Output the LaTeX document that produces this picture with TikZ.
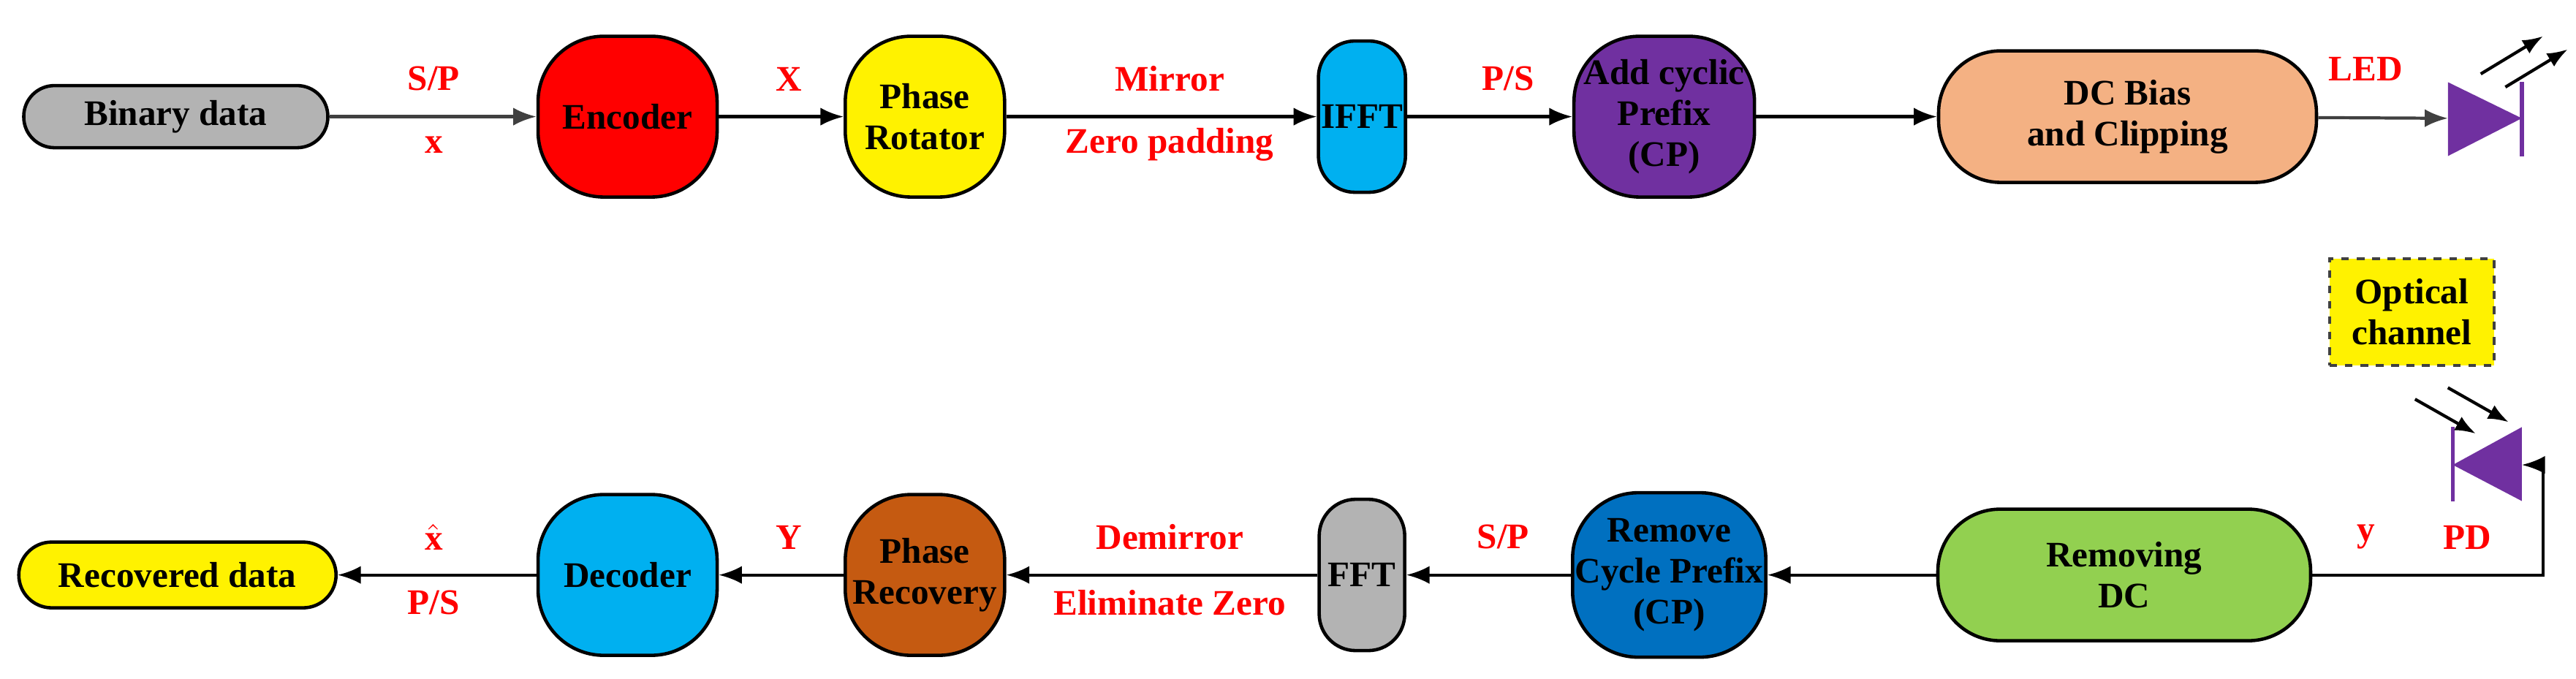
\documentclass[tikz,border=0pt]{standalone}
\usepackage{fontspec}
\setmainfont{Liberation Serif}
\usetikzlibrary{arrows.meta}
\definecolor{cgray}{HTML}{B3B3B3}
\definecolor{ccyan}{HTML}{00B0F0}
\definecolor{cpurple}{HTML}{7030A0}
\definecolor{cpeach}{HTML}{F4B183}
\definecolor{cgreen}{HTML}{92D050}
\definecolor{cblue}{HTML}{0070C0}
\definecolor{corange}{HTML}{C55A11}
\definecolor{cdiode}{HTML}{7030A0}
\begin{document}
\begin{tikzpicture}[x=0.02247cm,y=-0.02247cm,
 box/.style={draw,line width=1.3pt,align=center,font=\fontsize{14}{16}\selectfont\bfseries,inner sep=1pt},
 lab/.style={font=\fontsize{14}{16}\selectfont\bfseries,text=red},
 arr/.style={-{Latex[length=9pt,width=7pt]},line width=1.2pt},
 ray/.style={-{Latex[length=8pt,width=6pt]},line width=1.2pt},
 diode/.style={fill=cdiode,draw=none}]
\useasboundingbox (0,0) rectangle (1568,413);
% top row
\node[box,fill=cgray,minimum width=4.16cm,minimum height=0.85cm,rounded corners=0.42cm] (bin) at (107,71) {Binary data};
\node[box,fill=red,minimum width=2.45cm,minimum height=2.2cm,rounded corners=0.9cm] (enc) at (382,71) {Encoder};
\node[box,fill=yellow,minimum width=2.18cm,minimum height=2.2cm,rounded corners=0.9cm] (rot) at (563,71) {Phase\\Rotator};
\node[box,fill=ccyan,minimum width=1.17cm,minimum height=2.07cm,rounded corners=0.5cm] (ifft) at (829,71) {IFFT};
\node[box,fill=cpurple,minimum width=2.47cm,minimum height=2.2cm,rounded corners=0.9cm] (acp) at (1013,71) {Add cyclic\\Prefix\\(CP)};
\node[box,fill=cpeach,minimum width=5.17cm,minimum height=1.8cm,rounded corners=0.85cm] (dcb) at (1295,71) {DC Bias\\and Clipping};
% bottom row
\node[box,fill=cgreen,minimum width=5.1cm,minimum height=1.8cm,rounded corners=0.85cm] (rdc) at (1293,350) {Removing\\DC};
\node[box,fill=cblue,minimum width=2.52cm,minimum height=2.25cm,rounded corners=0.9cm] (rcp) at (1016,350) {Remove\\Cycle Prefix\\(CP)};
\node[box,fill=cgray,minimum width=1.17cm,minimum height=2.07cm,rounded corners=0.5cm] (fft) at (829,350) {FFT};
\node[box,fill=corange,minimum width=2.18cm,minimum height=2.2cm,rounded corners=0.9cm] (rec) at (563,350) {Phase\\Recovery};
\node[box,fill=ccyan,minimum width=2.45cm,minimum height=2.2cm,rounded corners=0.9cm] (dec) at (382,350) {Decoder};
\node[box,fill=yellow,minimum width=4.34cm,minimum height=0.9cm,rounded corners=0.45cm] (out) at (108,350) {Recovered data};
% optical channel
\node[box,fill=yellow,dashed,draw=black!75,minimum width=2.25cm,minimum height=1.46cm] (och) at (1468,190) {Optical\\channel};
% LED
\coordinate (ledin) at (1490,72);
\fill[diode] (1490,50) -- (1535,72) -- (1490,95) -- cycle;
\draw[cdiode,line width=1.5pt] (1535,50) -- (1535,95);
\coordinate (lr1a) at (1510,45); \coordinate (lr1b) at (1548,22);
\coordinate (lr2a) at (1525,53); \coordinate (lr2b) at (1563,30);
\draw[ray] (lr1a) -- (lr1b);
\draw[ray] (lr2a) -- (lr2b);
% PD
\coordinate (pdin) at (1535,283);
\fill[diode] (1535,260) -- (1493,283) -- (1535,305) -- cycle;
\draw[cdiode,line width=1.5pt] (1493,260) -- (1493,305);
\coordinate (pr1a) at (1470,243); \coordinate (pr1b) at (1507,264);
\coordinate (pr2a) at (1490,236); \coordinate (pr2b) at (1527,257);
\draw[ray] (pr1a) -- (pr1b);
\draw[ray] (pr2a) -- (pr2b);
\coordinate (c1) at (1548,350);
\coordinate (c2) at (1548,283);
% connectors
\draw[arr,draw=black!75] (bin) -- (enc);
\draw[arr] (enc) -- (rot);
\draw[arr] (rot) -- (ifft);
\draw[arr] (ifft) -- (acp);
\draw[arr] (acp) -- (dcb);
\draw[arr,draw=black!75] (dcb) -- (ledin);
\draw[arr] (rdc.east) -- (c1) -- (c2) -- (pdin);
\draw[arr] (rdc) -- (rcp);
\draw[arr] (rcp) -- (fft);
\draw[arr] (fft) -- (rec);
\draw[arr] (rec) -- (dec);
\draw[arr] (dec) -- (out);
% labels
\node[lab] (l1) at (264,48) {S/P};
\node[lab] (l2) at (264,88) {x};
\node[lab] (l3) at (480,48) {X};
\node[lab] (l4) at (712,48) {Mirror};
\node[lab] (l5) at (712,88) {Zero padding};
\node[lab] (l6) at (918,48) {P/S};
\node[lab] (l7) at (1440,42) {LED};
\node[lab] (l8) at (1440,327) {y};
\node[lab] (l9) at (1502,327) {PD};
\node[lab] (l10) at (915,327) {S/P};
\node[lab] (l11) at (712,327) {Demirror};
\node[lab] (l12) at (712,367) {Eliminate Zero};
\node[lab] (l13) at (480,327) {Y};
\node[lab] (l14) at (264,327) {$\hat{\mathbf{x}}$};
\node[lab] (l15) at (264,367) {P/S};
\end{tikzpicture}
\end{document}
